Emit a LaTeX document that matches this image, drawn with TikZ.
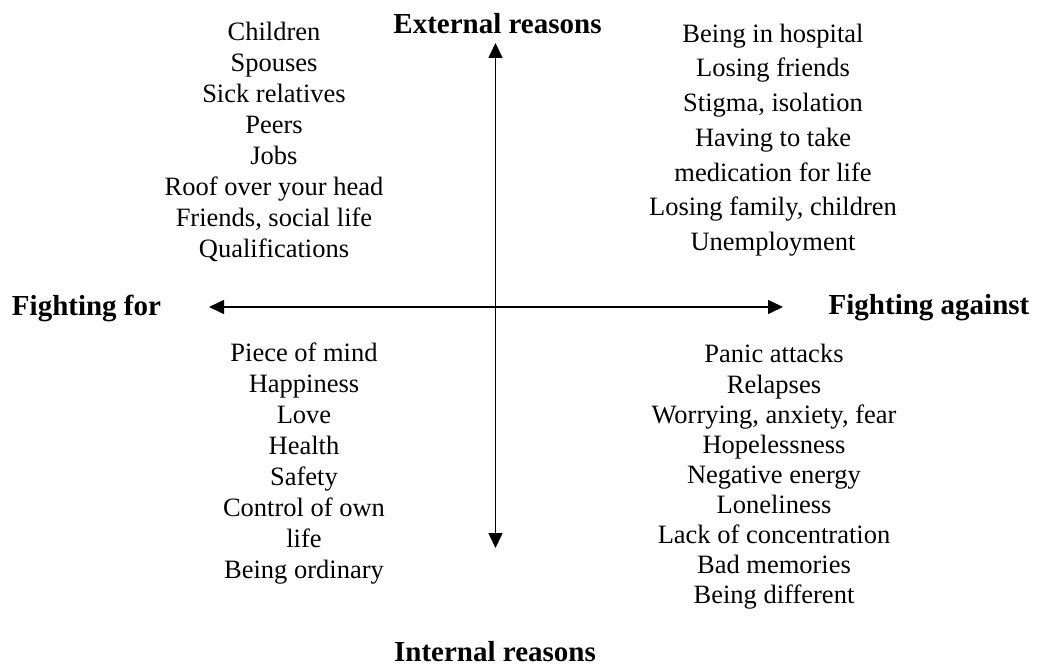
\documentclass[tikz,border=0pt]{standalone}
\usepackage{fontspec}
\setmainfont{Liberation Serif}
\usetikzlibrary{arrows.meta}
\tikzset{
  listtext/.style={align=center, inner sep=0pt},
  axislabel/.style={font=\fontsize{29}{33}\selectfont\bfseries, inner sep=0pt},
  axis/.style={line width=1.6pt, {Triangle[length=15pt,width=14pt]}-{Triangle[length=15pt,width=14pt]}}
}
\begin{document}
\begin{tikzpicture}[x=1pt,y=-1pt]
\useasboundingbox (0,0) rectangle (1041,668);
\coordinate (top) at (495.5,43);
\coordinate (bottom) at (495.5,548);
\coordinate (left) at (209,307);
\coordinate (right) at (783,307);
\draw[axis] (top) -- (bottom);
\draw[axis] (left) -- (right);
\node[axislabel] (ext) at (497.5,24) {External reasons};
\node[axislabel] (int) at (495,652) {Internal reasons};
\node[axislabel] (for) at (86.5,308) {Fighting for};
\node[axislabel] (against) at (929,308) {Fighting against};
\node[listtext, font=\fontsize{26.5}{31}\selectfont] (tl) at (274,142) {Children\\Spouses\\Sick relatives\\Peers\\Jobs\\Roof over your head\\Friends, social life\\Qualifications};
\node[listtext, font=\fontsize{26.5}{34.7}\selectfont] (tr) at (773,140) {Being in hospital\\Losing friends\\Stigma, isolation\\Having to take\\medication for life\\Losing family, children\\Unemployment};
\node[listtext, font=\fontsize{26.5}{31}\selectfont] (bl) at (304,464) {Piece of mind\\Happiness\\Love\\Health\\Safety\\Control of own\\life\\Being ordinary};
\node[listtext, font=\fontsize{26.5}{30.1}\selectfont] (br) at (774,477) {Panic attacks\\Relapses\\Worrying, anxiety, fear\\Hopelessness\\Negative energy\\Loneliness\\Lack of concentration\\Bad memories\\Being different};
\end{tikzpicture}
\end{document}
